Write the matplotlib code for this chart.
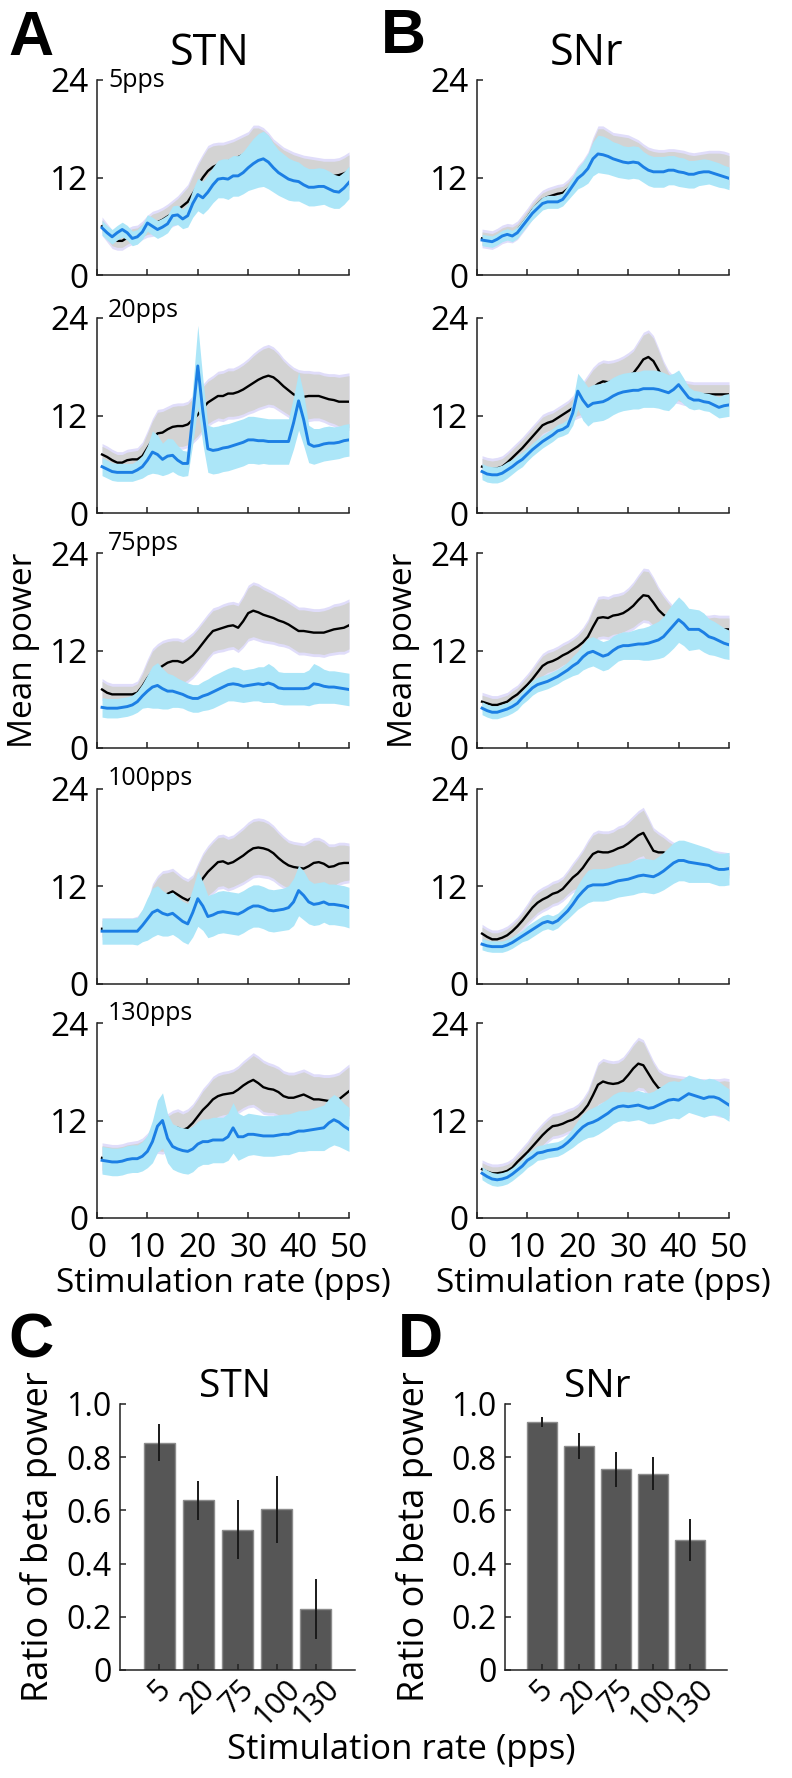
import numpy as np
import matplotlib
matplotlib.use('Agg')
import matplotlib.pyplot as plt

plt.rcParams['font.family'] = ['Open Sans', 'DejaVu Sans']

# frequency axis of the spectra (pps)
freq = np.arange(1, 51)

# ---- STN spectra: blue = during stimulation, black = baseline ----
stn5_blue = [5.8,5.2,4.7,5.2,5.6,5.2,4.5,4.7,5.3,6.4,6.0,5.6,5.9,6.3,7.3,7.4,6.9,7.3,8.8,9.9,
             9.5,10.2,11.1,11.8,11.9,11.8,12.2,12.2,12.6,13.2,13.7,14.1,14.3,13.9,13.2,12.6,12.2,11.8,11.6,11.5,
             11.1,10.8,10.8,10.9,10.9,10.6,10.3,10.2,10.7,11.4]
stn5_blue_sem = [0.9,0.9,0.9,0.9,0.9,0.9,0.9,0.9,0.9,1.0,1.1,1.1,1.1,1.1,1.2,1.2,1.2,1.4,1.7,2.0,
                 2.0,2.1,2.2,2.3,2.4,2.5,2.5,2.5,2.6,2.8,3.1,3.3,3.4,3.3,3.0,2.8,2.7,2.6,2.5,2.4,
                 2.3,2.3,2.3,2.3,2.2,2.2,2.1,2.0,2.0,2.0]
stn5_black = [6.0,5.2,4.4,4.2,4.2,4.6,4.9,5.0,5.5,6.0,6.3,6.5,6.8,7.2,7.6,8.0,8.5,9.0,10.0,11.0,
              12.0,12.8,13.3,13.6,13.8,14.0,14.2,14.5,14.8,15.0,15.3,15.2,15.0,14.6,14.2,13.9,13.6,13.3,13.0,12.8,
              12.6,12.5,12.4,12.3,12.2,12.2,12.2,12.3,12.5,12.8]
stn5_black_sem = [0.8,0.8,0.8,0.8,0.8,0.8,0.8,0.8,0.8,1.0,1.2,1.2,1.2,1.2,1.3,1.4,1.6,1.8,2.2,2.5,
                  2.6,2.8,2.6,2.4,2.2,2.2,2.2,2.2,2.2,2.3,2.8,2.9,2.8,2.6,2.2,2.0,1.8,1.8,1.8,1.8,
                  1.8,1.8,1.8,1.8,1.8,1.8,1.8,1.8,1.9,2.0]

stn20_blue = [5.7,5.4,5.1,5.0,5.0,5.0,5.0,5.3,5.7,6.5,7.5,7.2,6.6,7.0,7.1,6.5,6.1,6.1,12.0,18.1,
              12.5,7.9,7.7,7.8,8.0,8.1,8.3,8.5,8.7,9.0,9.0,8.9,8.9,8.8,8.8,8.8,8.8,8.8,11.1,13.8,
              11.5,8.5,8.2,8.3,8.5,8.6,8.6,8.7,8.9,9.0]
stn20_blue_sem = [1.1,1.1,1.1,1.1,1.1,1.1,1.1,1.2,1.4,1.8,2.6,2.4,2.0,2.2,2.0,1.8,1.6,1.5,3.5,5.0,
                  4.0,2.9,2.9,2.9,2.9,2.9,2.9,2.9,2.9,2.9,2.9,2.9,2.8,2.8,2.8,2.8,2.8,2.8,3.2,3.6,
                  3.2,2.3,2.2,2.1,2.1,2.1,2.0,2.0,2.0,2.0]
stn20_black = [7.2,6.9,6.5,6.2,6.2,6.5,6.6,6.6,7.0,8.0,9.0,9.8,9.9,10.3,10.6,10.7,10.7,10.9,11.5,12.1,
               12.9,13.6,14.0,14.4,14.4,14.7,14.7,14.9,15.2,15.6,16.0,16.4,16.7,16.9,16.7,16.2,15.6,15.1,14.6,14.3,
               14.3,14.4,14.4,14.4,14.2,14.0,13.9,13.7,13.7,13.7]
stn20_black_sem = [1.0,1.0,1.0,1.0,1.0,1.0,1.0,1.1,1.4,1.8,2.3,2.6,2.6,2.5,2.5,2.5,2.5,2.5,2.6,2.6,
                   2.6,2.6,2.6,2.7,2.8,2.8,2.8,2.9,3.0,3.1,3.3,3.4,3.5,3.5,3.4,3.3,3.1,3.0,3.0,3.0,
                   2.9,2.8,2.7,2.7,2.7,2.8,2.9,3.0,3.1,3.2]

stn75_blue = [5.0,4.9,4.9,4.9,5.0,5.1,5.3,5.7,6.4,7.0,7.5,7.7,7.3,7.0,7.0,6.8,6.6,6.3,6.1,6.1,
              6.4,6.6,6.9,7.2,7.5,7.8,7.9,7.8,7.6,7.7,7.8,7.9,7.8,8.0,7.8,7.4,7.3,7.3,7.3,7.3,
              7.3,7.4,7.9,7.8,7.6,7.5,7.5,7.4,7.3,7.2]
stn75_blue_sem = [1.2,1.2,1.2,1.2,1.2,1.2,1.2,1.3,1.5,2.0,2.6,2.8,2.5,2.2,2.0,1.8,1.7,1.7,1.7,1.7,
                  1.8,1.9,2.0,2.0,2.0,2.0,2.1,2.1,2.0,2.0,2.0,2.1,2.2,2.4,2.2,2.0,2.0,2.0,2.0,2.0,
                  2.0,2.2,2.5,2.3,2.1,2.0,2.0,2.0,2.0,2.0]
stn75_black = [7.2,6.8,6.6,6.6,6.6,6.6,6.6,6.8,7.6,8.6,9.4,9.7,10.1,10.5,10.7,10.7,10.5,10.9,11.4,12.1,
               12.9,13.7,14.4,14.6,14.8,15.0,15.1,14.8,15.6,16.6,16.9,16.7,16.4,16.2,16.0,15.7,15.5,15.2,14.8,14.4,
               14.4,14.3,14.2,14.2,14.2,14.4,14.6,14.7,14.8,15.1]
stn75_black_sem = [1.0,1.0,1.0,1.0,1.0,1.0,1.0,1.1,1.5,2.0,2.5,2.8,2.8,2.6,2.5,2.5,2.5,2.5,2.5,2.5,
                   2.5,2.5,2.5,2.5,2.6,2.6,2.6,2.7,2.9,3.1,3.2,3.2,3.1,3.0,2.9,2.8,2.7,2.6,2.6,2.6,
                   2.6,2.6,2.6,2.6,2.7,2.7,2.8,2.8,2.9,2.9]

stn100_blue = [6.5,6.5,6.5,6.5,6.5,6.5,6.5,6.5,7.2,8.0,8.8,9.1,8.7,8.5,8.7,8.2,7.7,7.4,8.8,10.5,
               9.6,8.3,8.5,8.8,8.9,8.8,8.7,8.6,8.9,9.3,9.6,9.6,9.4,9.1,9.0,9.1,9.2,9.4,10.1,11.5,
               10.9,10.1,9.8,9.9,10.1,9.8,9.8,9.7,9.6,9.4]
stn100_blue_sem = [1.6,1.6,1.6,1.6,1.6,1.6,1.6,1.7,2.0,2.6,3.0,3.0,2.8,2.6,2.6,2.5,2.5,2.5,3.0,3.4,
                   3.0,2.6,2.6,2.6,2.6,2.6,2.6,2.6,2.6,2.6,2.6,2.6,2.6,2.6,2.6,2.6,2.6,2.7,2.9,3.1,
                   3.0,2.7,2.6,2.6,2.5,2.5,2.5,2.5,2.5,2.5]
stn100_black = [6.8,6.8,6.8,6.8,6.8,6.8,6.8,6.9,7.3,7.8,9.5,10.2,10.8,11.1,11.4,11.0,10.6,10.3,10.7,11.9,
                13.0,13.8,14.4,15.0,15.1,14.8,15.0,15.4,15.8,16.3,16.7,16.8,16.7,16.5,16.1,15.5,15.0,14.6,14.4,14.3,
                14.2,14.5,14.9,15.0,14.8,14.4,14.5,14.8,14.9,14.9]
stn100_black_sem = [1.0,1.0,1.0,1.0,1.0,1.0,1.0,1.1,1.5,2.0,2.5,2.8,2.8,2.6,2.5,2.4,2.3,2.3,2.4,2.6,
                    2.8,2.9,3.0,3.0,3.0,3.0,3.0,3.1,3.2,3.3,3.3,3.3,3.3,3.2,3.1,3.0,2.9,2.8,2.8,2.8,
                    2.8,2.8,2.8,2.7,2.6,2.5,2.4,2.3,2.2,2.1]

stn130_blue = [7.1,7.0,6.9,6.9,7.0,7.2,7.3,7.3,7.6,8.2,9.4,11.3,12.0,9.8,8.8,8.5,8.3,8.2,8.5,9.1,
               9.4,9.4,9.6,9.6,9.6,10.0,11.1,10.0,10.0,10.3,10.3,10.2,10.1,10.1,10.1,10.2,10.3,10.3,10.5,10.7,
               10.7,10.8,10.9,11.0,11.1,11.7,12.1,11.8,11.3,10.9]
stn130_blue_sem = [1.7,1.7,1.7,1.7,1.7,1.7,1.7,1.7,1.8,2.0,2.6,3.2,3.4,3.0,2.8,2.8,2.8,2.8,2.8,2.8,
                   2.8,2.8,2.8,2.8,2.8,2.9,3.1,2.9,2.6,2.6,2.5,2.5,2.5,2.5,2.5,2.5,2.5,2.5,2.5,2.5,
                   2.5,2.5,2.6,2.7,2.8,3.0,3.1,3.0,2.8,2.7]
stn130_black = [7.4,7.3,7.2,7.2,7.3,7.5,7.6,7.7,8.0,8.6,9.4,9.9,10.2,10.5,10.9,11.1,10.8,11.1,11.7,12.5,
                13.3,13.9,14.6,15.0,15.2,15.3,15.4,15.8,16.3,16.7,17.0,16.6,16.1,15.9,15.8,15.5,15.0,14.8,14.8,15.0,
                15.2,14.9,14.6,14.6,14.5,14.4,14.4,14.6,15.1,15.6]
stn130_black_sem = [1.5,1.5,1.5,1.5,1.5,1.5,1.5,1.5,1.5,1.5,1.5,1.6,2.0,2.0,2.0,2.0,2.0,2.0,2.0,2.1,
                    2.3,2.4,2.5,2.5,2.5,2.5,2.6,2.6,2.7,2.8,3.0,3.0,3.0,2.9,2.8,2.8,2.8,2.8,2.8,2.8,
                    2.8,2.8,2.8,2.8,2.8,2.9,3.0,3.0,3.0,3.0]

# ---- SNr spectra ----
snr5_blue = [4.3,4.2,4.1,4.4,4.8,5.0,4.8,5.2,6.0,6.8,7.6,8.2,8.8,9.0,9.0,9.0,9.3,10.1,11.0,11.9,
             12.4,13.1,14.3,14.9,14.8,14.6,14.3,14.1,13.9,13.8,13.9,13.8,13.3,12.9,12.7,12.7,12.7,12.9,12.9,12.7,
             12.6,12.4,12.4,12.6,12.7,12.7,12.5,12.3,12.1,11.9]
snr5_blue_sem = [0.7,0.7,0.7,0.7,0.7,0.7,0.7,0.7,0.7,0.7,0.8,0.8,0.8,0.8,0.8,0.8,0.8,0.9,1.1,1.3,
                 1.5,1.8,2.1,2.3,2.3,2.2,2.1,2.1,2.0,2.0,2.0,2.0,1.9,1.9,1.9,1.9,1.9,1.8,1.8,1.8,
                 1.8,1.7,1.7,1.6,1.6,1.5,1.5,1.5,1.4,1.4]
snr5_black = [4.5,4.4,4.3,4.6,5.0,5.2,5.1,5.5,6.3,7.1,8.0,8.7,9.3,9.6,9.8,10.0,10.1,10.6,11.3,12.2,
              12.8,13.6,15.0,16.0,15.8,15.6,15.4,15.3,15.2,15.1,15.0,14.8,14.4,14.0,13.8,13.7,13.7,13.8,13.8,13.7,
              13.6,13.4,13.3,13.4,13.5,13.5,13.4,13.3,13.1,12.9]
snr5_black_sem = [0.8,0.8,0.8,0.8,0.8,0.8,0.8,0.8,0.8,0.8,0.8,0.8,0.8,0.8,0.8,0.8,0.8,0.8,0.8,0.9,
                  1.0,1.2,1.6,2.0,2.2,2.0,1.8,1.8,1.8,1.8,1.6,1.5,1.4,1.4,1.4,1.4,1.4,1.4,1.4,1.4,
                  1.4,1.4,1.4,1.4,1.4,1.5,1.6,1.7,1.8,1.8]

snr20_blue = [5.1,4.8,4.7,4.7,4.9,5.3,5.7,6.2,6.6,7.2,7.8,8.3,8.8,9.2,9.6,10.1,10.3,10.7,12.3,15.0,
              13.9,13.1,13.5,13.6,13.7,14.0,14.4,14.7,14.9,15.0,15.1,15.1,15.3,15.3,15.3,15.2,15.0,14.8,15.2,15.8,
              15.0,14.2,13.9,13.9,13.7,13.6,13.3,13.0,13.2,13.3]
snr20_blue_sem = [1.0,1.0,1.0,1.0,1.0,1.0,0.9,0.9,0.9,0.8,0.8,0.8,0.8,0.8,0.8,0.8,0.8,0.9,1.5,2.2,
                  2.5,2.4,2.3,2.3,2.3,2.3,2.3,2.3,2.3,2.3,2.3,2.3,2.3,2.3,2.3,2.3,2.3,2.2,2.0,1.8,
                  1.6,1.3,1.2,1.1,1.1,1.1,1.2,1.3,1.4,1.4]
snr20_black = [5.7,5.5,5.4,5.5,5.7,6.2,6.8,7.4,8.0,8.7,9.4,10.1,10.8,11.1,11.3,11.7,12.1,12.5,12.9,13.5,
               14.0,14.7,15.4,15.9,16.2,16.1,16.2,16.4,16.6,16.9,17.2,18.0,18.9,19.2,18.7,17.6,16.4,15.6,15.2,15.0,
               14.8,14.7,14.6,14.6,14.6,14.6,14.6,14.6,14.6,14.6]
snr20_black_sem = [1.0,1.0,1.0,1.0,1.0,1.0,1.0,1.0,1.0,1.0,1.0,1.0,1.0,1.0,1.0,1.0,1.0,1.0,1.2,1.5,
                   1.8,2.0,2.2,2.3,2.3,2.3,2.3,2.3,2.4,2.5,2.7,2.9,3.0,3.0,2.8,2.4,2.0,1.6,1.3,1.2,
                   1.2,1.2,1.2,1.2,1.2,1.2,1.2,1.2,1.2,1.2]

snr75_blue = [4.9,4.6,4.4,4.4,4.6,4.8,5.1,5.5,6.2,6.8,7.4,7.8,8.0,8.2,8.5,8.8,9.2,9.6,10.1,10.5,
              11.2,11.7,11.9,11.6,11.3,11.5,12.0,12.4,12.6,12.6,12.7,12.8,12.8,12.9,13.1,13.3,13.7,14.4,15.1,15.8,
              15.3,14.6,14.6,14.6,14.2,13.7,13.5,13.2,12.9,12.7]
snr75_blue_sem = [0.8,0.8,0.8,0.8,0.8,0.8,0.8,0.8,0.8,0.9,0.9,0.9,0.9,0.9,0.9,0.9,0.9,1.0,1.2,1.4,
                  1.6,1.8,1.8,1.8,1.8,1.8,1.8,1.7,1.7,1.7,1.8,1.9,2.0,2.1,2.2,2.3,2.5,2.7,2.8,2.8,
                  2.7,2.6,2.5,2.4,2.4,2.2,2.1,2.0,1.9,1.8]
snr75_black = [5.7,5.5,5.3,5.3,5.5,5.7,6.2,6.6,7.2,7.8,8.5,9.3,10.1,10.5,10.7,11.0,11.4,11.7,12.1,12.5,
               13.0,13.7,14.9,16.0,16.1,16.0,16.3,16.4,16.6,17.0,17.5,18.2,18.8,18.7,17.9,17.0,16.4,16.0,15.6,15.3,
               15.1,15.0,14.9,14.8,14.8,14.8,14.8,14.7,14.6,14.6]
snr75_black_sem = [0.8,0.8,0.8,0.8,0.8,0.8,0.8,0.8,0.9,1.0,1.1,1.2,1.2,1.2,1.2,1.2,1.2,1.2,1.2,1.3,
                   1.5,1.8,2.1,2.3,2.3,2.3,2.3,2.3,2.3,2.4,2.6,2.8,3.0,3.0,2.8,2.5,2.2,1.8,1.5,1.3,
                   1.2,1.2,1.2,1.2,1.2,1.2,1.3,1.3,1.4,1.4]

snr100_blue = [4.9,4.7,4.6,4.6,4.6,4.8,5.1,5.5,5.9,6.3,6.7,7.1,7.5,7.7,7.5,7.8,8.4,9.0,9.8,10.7,
               11.4,12.0,12.2,12.2,12.2,12.3,12.5,12.7,12.8,12.9,13.1,13.3,13.4,13.3,13.2,13.5,13.9,14.4,14.9,15.2,
               15.2,15.0,14.9,14.8,14.7,14.6,14.3,14.1,14.1,14.2]
snr100_blue_sem = [0.7,0.7,0.7,0.7,0.7,0.7,0.7,0.7,0.7,0.9,0.9,0.9,0.9,0.9,0.9,0.9,0.9,1.0,1.2,1.5,
                   1.8,2.0,2.0,2.0,2.0,2.0,2.0,2.0,2.0,2.0,2.1,2.1,2.1,2.1,2.1,2.2,2.3,2.4,2.5,2.5,
                   2.5,2.5,2.4,2.3,2.2,2.1,2.0,2.0,2.0,2.0]
snr100_black = [6.2,5.8,5.5,5.5,5.7,6.0,6.5,7.1,7.8,8.6,9.4,10.0,10.4,10.7,11.1,11.3,11.7,12.4,13.1,13.6,
                14.3,15.2,16.0,16.3,16.2,16.2,16.4,16.7,16.9,17.3,17.8,18.3,18.6,17.5,16.4,16.2,16.2,16.0,15.8,15.7,
                15.6,15.5,15.4,15.3,15.2,15.0,14.9,14.8,14.7,14.6]
snr100_black_sem = [0.8,0.8,0.8,0.8,0.8,0.8,0.8,0.8,0.9,1.0,1.2,1.2,1.2,1.2,1.2,1.2,1.2,1.3,1.5,1.8,
                    2.0,2.2,2.3,2.3,2.3,2.3,2.3,2.4,2.4,2.5,2.6,2.7,2.8,2.7,2.5,2.2,1.8,1.5,1.3,1.2,
                    1.2,1.2,1.2,1.2,1.2,1.2,1.2,1.2,1.2,1.2]

snr130_blue = [5.5,5.1,4.8,4.7,4.8,5.0,5.4,5.9,6.4,7.1,7.5,8.0,8.1,8.3,8.4,8.5,8.8,9.3,9.9,10.6,
               11.2,11.6,11.8,12.1,12.5,12.9,13.4,13.7,13.8,13.7,13.8,13.9,13.7,13.5,13.6,13.9,14.2,14.5,14.6,14.5,
               14.9,15.3,15.1,14.9,14.7,14.9,14.9,14.7,14.3,13.9]
snr130_blue_sem = [0.8,0.8,0.8,0.8,0.8,0.8,0.8,0.8,0.8,0.9,0.9,0.9,0.9,0.9,0.9,0.9,0.9,1.0,1.2,1.4,
                   1.6,1.7,1.8,1.8,1.8,1.8,1.8,1.8,1.8,1.8,1.8,1.8,1.8,1.9,2.0,2.1,2.2,2.3,2.3,2.3,
                   2.3,2.3,2.3,2.3,2.3,2.3,2.2,2.1,2.0,2.0]
snr130_black = [6.0,5.7,5.5,5.5,5.6,5.8,6.2,6.9,7.5,8.1,8.8,9.5,10.2,10.8,11.3,11.4,11.6,11.9,12.1,12.5,
                13.1,13.9,15.1,16.4,16.8,16.6,16.5,16.6,16.9,17.6,18.4,19.0,18.8,17.8,16.8,16.0,15.8,15.6,15.5,15.4,
                15.3,15.2,15.1,15.0,15.0,14.9,14.9,14.8,14.8,14.7]
snr130_black_sem = [0.8,0.8,0.8,0.8,0.8,0.8,0.8,0.8,0.9,1.0,1.2,1.2,1.2,1.2,1.2,1.2,1.2,1.2,1.2,1.2,
                    1.3,1.5,2.0,2.4,2.5,2.5,2.5,2.5,2.6,2.7,2.8,2.9,2.8,2.5,2.2,2.0,1.8,1.8,1.8,1.8,
                    1.8,1.8,1.8,1.8,1.8,1.8,1.9,2.0,2.1,2.1]

rates = ['5pps', '20pps', '75pps', '100pps', '130pps']

# ---- beta power ratio (bar panels) ----
bar_labels = ['5', '20', '75', '100', '130']
stn_ratio = [0.855, 0.638, 0.528, 0.604, 0.228]
stn_ratio_err = [0.069, 0.074, 0.112, 0.126, 0.113]
snr_ratio = [0.932, 0.841, 0.754, 0.737, 0.489]
snr_ratio_err = [0.018, 0.049, 0.067, 0.062, 0.079]

stn_sets = [(stn5_blue, stn5_blue_sem, stn5_black, stn5_black_sem),
            (stn20_blue, stn20_blue_sem, stn20_black, stn20_black_sem),
            (stn75_blue, stn75_blue_sem, stn75_black, stn75_black_sem),
            (stn100_blue, stn100_blue_sem, stn100_black, stn100_black_sem),
            (stn130_blue, stn130_blue_sem, stn130_black, stn130_black_sem)]
snr_sets = [(snr5_blue, snr5_blue_sem, snr5_black, snr5_black_sem),
            (snr20_blue, snr20_blue_sem, snr20_black, snr20_black_sem),
            (snr75_blue, snr75_blue_sem, snr75_black, snr75_black_sem),
            (snr100_blue, snr100_blue_sem, snr100_black, snr100_black_sem),
            (snr130_blue, snr130_blue_sem, snr130_black, snr130_black_sem)]

W, H = 792, 1778
fig = plt.figure(figsize=(W / 100, H / 100), dpi=100)


def px_axes(left, top, width, height):
    return fig.add_axes([left / W, 1 - (top + height) / H, width / W, height / H])


def fig_text(x, y, s, **kw):
    fig.text(x / W, 1 - y / H, s, **kw)


def style_axes(ax):
    for side in ['top', 'right']:
        ax.spines[side].set_visible(False)
    for side in ['left', 'bottom']:
        ax.spines[side].set_linewidth(1.1)
        ax.spines[side].set_color('#222222')
    ax.tick_params(direction='in', length=4, width=1.1, color='#222222')


row_tops = [80, 318, 553, 789, 1023]
col_lefts = [97, 477]
pps_baseline = [-7, 1, 3, 4, 3]

for col, sets in enumerate([stn_sets, snr_sets]):
    for row, (blue, blue_sem, black, black_sem) in enumerate(sets):
        ax = px_axes(col_lefts[col], row_tops[row], 252, 195)
        blue = np.array(blue)
        blue_sem = np.array(blue_sem)
        black = np.array(black)
        black_sem = np.array(black_sem)

        # faint lavender rim behind the baseline band
        ax.fill_between(freq, black - black_sem - 0.35, black + black_sem + 0.35,
                        color='#e0ddfa', lw=0, zorder=1)
        ax.fill_between(freq, black - black_sem, black + black_sem,
                        color='#d3d3d3', lw=0, zorder=2)
        ax.plot(freq, black, color='black', lw=1.7, zorder=3)
        ax.fill_between(freq, blue - blue_sem, blue + blue_sem,
                        color='#ace6f8', lw=0, zorder=4)
        ax.plot(freq, blue, color='#1c7fe4', lw=2.1, zorder=5)

        ax.set_xlim(0, 50)
        ax.set_ylim(0, 24)
        ax.set_xticks(range(0, 51, 10))
        ax.set_yticks([0, 12, 24])
        style_axes(ax)
        ax.tick_params(axis='y', labelsize=24, pad=6)
        ax.tick_params(axis='x', labelsize=24, pad=10)
        if row < 4:
            ax.tick_params(labelbottom=False)
        else:
            ax.set_xlabel('Stimulation rate (pps)', fontsize=24)
            ax.xaxis.set_label_coords(0.5, -0.25)
        if row == 2:
            ax.set_ylabel('Mean power', fontsize=24)
            ax.yaxis.set_label_coords(-0.226, 0.5)
        if col == 0:
            ax.text(0.044, 1 + pps_baseline[row] / 195, rates[row], transform=ax.transAxes,
                    fontsize=18, va='baseline', ha='left')

# bar panels
bar_x = np.arange(1, 6)
for left, width, ratio, err, label_x in [(120, 235, stn_ratio, stn_ratio_err, -0.268),
                                         (505, 222, snr_ratio, snr_ratio_err, -0.324)]:
    ax = px_axes(left, 1404, width, 266)
    ax.bar(bar_x, ratio, width=0.8, yerr=err, color='#565656', edgecolor='#8c8c8c',
           linewidth=1, error_kw=dict(ecolor='#1a1a1a', elinewidth=1.4, capsize=0))
    ax.set_xlim(0, 6)
    ax.set_ylim(0, 1)
    ax.set_yticks([0, 0.2, 0.4, 0.6, 0.8, 1.0])
    ax.set_yticklabels(['0', '0.2', '0.4', '0.6', '0.8', '1.0'])
    ax.set_xticks(bar_x)
    ax.set_xticklabels(bar_labels, rotation=45, ha='center', va='top')
    style_axes(ax)
    ax.tick_params(axis='y', labelsize=23, pad=6)
    ax.tick_params(axis='x', labelsize=22, pad=3)
    ax.set_ylabel('Ratio of beta power', fontsize=26)
    ax.yaxis.set_label_coords(label_x, 0.5)

fig_text(401, 1750, 'Stimulation rate (pps)', fontsize=25, ha='center', va='center')

# column titles and panel letters
fig_text(210, 65, 'STN', fontsize=31, ha='center', va='baseline')
fig_text(586, 65, 'SNr', fontsize=31, ha='center', va='baseline')
fig_text(235, 1397, 'STN', fontsize=28, ha='center', va='baseline')
fig_text(597, 1397, 'SNr', fontsize=28, ha='center', va='baseline')
for letter, x, y in [('A', 8, 55), ('B', 381, 53), ('C', 8, 1357), ('D', 398, 1357)]:
    fig_text(x, y, letter, fontsize=45, fontweight='bold', family='Liberation Sans',
             ha='left', va='baseline')

fig.savefig('out.png', dpi=100)
